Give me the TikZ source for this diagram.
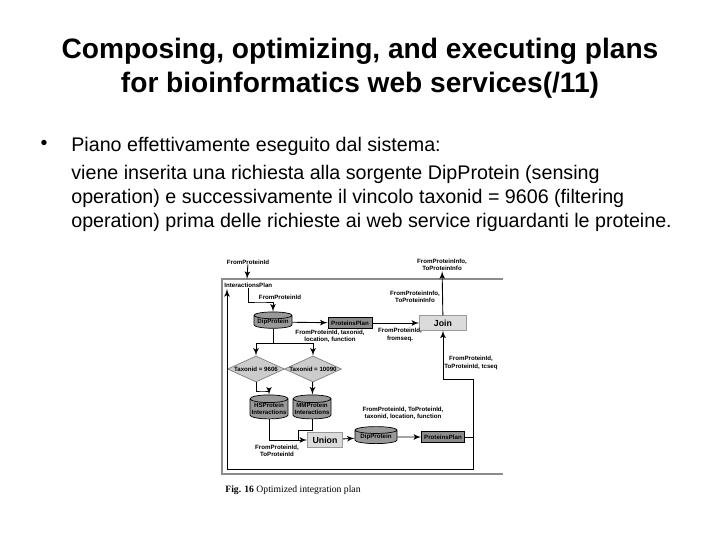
\documentclass[tikz,border=0pt]{standalone}
\usepackage{fontspec}
\setmainfont{Liberation Sans}
\newfontfamily\capfont{Liberation Serif}
\usetikzlibrary{shapes.geometric, arrows, positioning, calc}

\newcommand{\dfont}{\fontsize{3.5}{4.1}\selectfont\bfseries}

\begin{document}
\begin{tikzpicture}[x=0.02cm, y=-0.02cm,
    store/.style={cylinder, shape border rotate=90, draw, fill=black!40, aspect=0.22, inner sep=0pt, align=center, font=\dfont, minimum width=0.76cm, minimum height=0.32cm},
    process/.style={rectangle, draw, fill=black!45, text centered, inner sep=0pt, font=\dfont, minimum height=0.23cm, minimum width=0.88cm},
    op/.style={rectangle, draw=black!40, fill=black!14, text centered, inner sep=0pt, font=\fontsize{5}{6}\selectfont\bfseries, minimum height=0.29cm, minimum width=0.94cm},
    decision/.style={diamond, draw=black!50, fill=black!20, inner sep=0pt, minimum width=1.14cm, minimum height=0.52cm},
    lbl/.style={font=\dfont, align=center, inner sep=0pt},
    line/.style={draw, -latex', line width=0.5pt},
    frame/.style={draw=black!45, line width=0.6pt}]

    \fill[white] (0,0) rectangle (720,540);
    \useasboundingbox (0,0) rectangle (720,540);

    % Title and text
    \node[font=\fontsize{16}{19.3}\selectfont\bfseries, align=center] (title) at (360,68) {Composing, optimizing, and executing plans\\for bioinformatics web services(/11)};
    \node[font=\fontsize{11.2}{13.6}\selectfont] (bullet) at (44,145) {\textbullet};
    \node[font=\fontsize{11.2}{13.6}\selectfont, align=left, anchor=north west, inner sep=0pt] (body) at (71,137) {Piano effettivamente eseguito dal sistema:\\[2.5pt]viene inserita una richiesta alla sorgente DipProtein (sensing\\operation) e successivamente il vincolo taxonid = 9606 (filtering\\operation) prima delle richieste ai web service riguardanti le proteine.};

    % Frame
    \draw[frame] (503,279) -- (222,279) -- (222,474) -- (503,474);

    % Upper part
    \node[lbl] (in) at (248,262) {FromProteinId};
    \coordinate (ftop) at (247,279);
    \node[lbl, anchor=west] (plan) at (224,285) {InteractionsPlan};
    \node[store] (dip1) at (273,322) {DipProtein};
    \node[process] (pp1) at (350,323) {ProteinsPlan};
    \node[op] (join) at (443,323) {Join};
    \node[lbl] (out) at (442,265) {FromProteinInfo,\\ToProteinInfo};
    \coordinate (k0) at (260,302);

    \node[lbl] (l1) at (280,297) {FromProteinId};
    \node[lbl] (l2) at (330,336) {FromProteinId, taxonid,\\location, function};
    \node[lbl] (l3) at (400,335) {FromProteinId,\\fromseq.};
    \node[lbl] (l4) at (415,297) {FromProteinInfo,\\ToProteinInfo};

    % Filters
    \coordinate (fork) at (273,343);
    \node[decision, label={[font=\dfont]center:Taxonid = 9606}] (tax1) at (256,369) {};
    \node[decision, label={[font=\dfont]center:Taxonid = 10090}] (tax2) at (313,369) {};
    \node[store, minimum height=0.48cm] (hs) at (269,409) {HSProtein\\Interactions};
    \node[store, minimum height=0.48cm] (mm) at (312,409) {MMProtein\\Interactions};
    \coordinate (k1) at (262,391);
    \coordinate (k2) at (298,430);

    % Lower part
    \node[op, minimum width=0.7cm, minimum height=0.3cm] (union) at (325,440) {Union};
    \node[store, minimum width=0.84cm, minimum height=0.34cm] (dip2) at (376,437) {DipProtein};
    \node[process, minimum width=0.86cm] (pp2) at (443,437) {ProteinsPlan};
    \node[lbl] (l5) at (471,363) {FromProteinId,\\ToProteinId, tcseq};
    \node[lbl] (l6) at (277,451) {FromProteinId,\\ToProteinId};
    \node[lbl] (l7) at (403,413) {FromProteinId, ToProteinId,\\taxonid, location, function};
    \coordinate (k3) at (473,379);
    \coordinate (loopR) at (473,469);
    \coordinate (loopL) at (227,469);
    \coordinate (loopT) at (227,289);

    % Connections
    \path [line] (in) -- (ftop);
    \path [line] (plan) |- (k0) -| (dip1);
    \path [line] (dip1) -- (pp1);
    \path [line] (pp1) -- (join);
    \path [line] (join) -- (out);
    \draw [line width=0.5pt] (dip1) -- (fork);
    \path [line] (fork) -| (tax1);
    \path [line] (fork) -| (tax2);
    \path [line] (tax1) |- (k1) -| (hs);
    \path [line] (tax2) -- (mm);
    \path [line] (hs) |- (union);
    \draw [line width=0.5pt] (mm) |- (k2) -- (k2 |- union.west);
    \path [line, dashed] (union) -- (dip2);
    \path [line] (dip2) -- (pp2);
    \path [line] (pp2) -| (k3) -| (join);
    \path [line] (pp2) -| (loopR) -- (loopL) -- (loopT);

    % Caption
    \node[font=\capfont\fontsize{5.5}{7}\selectfont, anchor=west, inner sep=0pt] (cap) at (225,490) {\textbf{Fig. 16} Optimized integration plan};

\end{tikzpicture}
\end{document}
